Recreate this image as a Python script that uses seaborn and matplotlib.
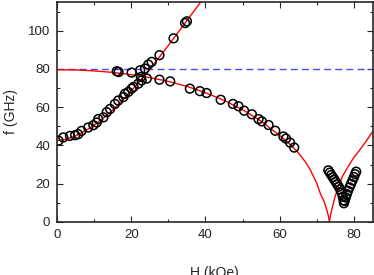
import numpy as np
import pandas as pd
import matplotlib
matplotlib.use("Agg")
import matplotlib.pyplot as plt
import seaborn as sns
from matplotlib.ticker import MultipleLocator

# ---- data ----
# measured points: upper branch (rising)
up_H = [0.4, 1.7, 3.5, 4.9, 5.7, 6.6, 8.4, 9.8, 10.7, 11.1, 12.5, 13.4, 14.3, 15.6,
        16.5, 17.9, 18.3, 19.2, 20.1, 20.6, 21.9, 22.4, 22.8, 23.7, 24.6, 25.5,
        27.6, 31.4, 34.5, 35.0]
up_f = [42.5, 44.2, 45.0, 45.4, 45.9, 47.6, 49.4, 50.6, 52.0, 53.8, 54.7, 57.4, 59.1, 61.7,
        63.5, 65.3, 67.0, 68.0, 69.7, 70.6, 72.3, 79.3, 74.0, 80.2, 82.3, 83.7,
        87.2, 96.0, 104.0, 104.9]
# measured points: lower branch (falling)
lo_H = [16.1, 16.6, 20.1, 22.6, 24.2, 27.6, 30.5, 35.8, 38.5, 40.3, 44.1, 47.4, 48.9,
        50.4, 52.5, 54.3, 55.2, 57.0, 58.8, 61.0, 61.7, 62.8, 63.9]
lo_f = [78.8, 78.4, 78.1, 75.8, 75.0, 74.4, 73.5, 69.7, 68.4, 67.4, 63.9, 61.7, 60.5,
        58.2, 56.3, 53.8, 52.6, 50.7, 47.7, 44.7, 43.6, 41.5, 38.9]
# measured points: V near the spin-flop field
v_H = [73.1, 73.5, 73.9, 74.3, 74.7, 75.1, 75.5, 75.9, 76.3, 76.7, 77.0, 77.2, 77.3,
       77.5, 77.8, 78.1, 78.4, 78.8, 79.2, 79.6, 80.0, 80.3, 80.6]
v_f = [27.0, 25.8, 24.6, 23.4, 22.2, 21.0, 19.7, 18.4, 17.0, 15.3, 13.2, 11.3, 9.8,
       11.0, 12.8, 14.6, 16.3, 18.1, 19.9, 21.7, 23.5, 25.0, 26.3]

# theory curves (red)
th1_H = [0, 2.5, 5, 7.5, 10, 12.5, 15, 17.5, 20, 22.5, 25, 27.5, 30, 32.5, 35, 37.5, 40, 41]
th1_f = [42.5, 43.3, 45.0, 47.5, 50.6, 54.3, 58.5, 63.3, 68.5, 74.0, 80.0, 86.0, 92.3,
         98.8, 105.3, 111.8, 118.3, 121.0]
th2_H = [0, 5, 10, 15, 20, 25, 30, 35, 40, 45, 50, 55, 60, 62.8, 65, 67, 68.2, 70,
         70.9, 72, 72.7, 73.1, 73.4]
th2_f = [79.6, 79.5, 79.0, 78.2, 77.0, 75.5, 73.5, 70.9, 67.6, 63.6, 58.7, 52.7, 45.2,
         40.6, 36.2, 31.2, 27.4, 20.2, 15.1, 10.5, 6.3, 3.2, 0.0]
th3_H = [73.4, 73.6, 74.0, 74.8, 75.8, 77.0, 78.5, 80.0, 81.7, 83.3, 85.0]
th3_f = [0.0, 2.8, 6.3, 12.5, 18.6, 24.2, 29.2, 33.8, 38.0, 42.3, 47.2]

hline_f = 80.0

# ---- plot ----
sns.set_style("ticks")
plt.rcParams['font.family'] = ['Liberation Sans', 'DejaVu Sans']

fig = plt.figure(figsize=(3.74, 2.75), dpi=100)
ax = fig.add_axes([57/374, 1-222/275, 315.5/374, 220/275])

ax.axhline(hline_f, color='#4a4ae6', lw=1.0, ls=(0, (5, 3)), zorder=1)

for H, f in [(th1_H, th1_f), (th2_H, th2_f), (th3_H, th3_f)]:
    sns.lineplot(x=H, y=f, ax=ax, color='red', lw=1.0, sort=False,
                 estimator=None, zorder=2)

pts = pd.DataFrame({'H': up_H + lo_H + v_H, 'f': up_f + lo_f + v_f})
sns.scatterplot(data=pts, x='H', y='f', ax=ax, marker='o', s=40,
                facecolor='none', edgecolor='black', linewidth=1.1, zorder=3)

ax.set_xlim(0, 85)
ax.set_ylim(0, 115)
ax.xaxis.set_major_locator(MultipleLocator(20))
ax.xaxis.set_minor_locator(MultipleLocator(10))
ax.yaxis.set_major_locator(MultipleLocator(20))
ax.yaxis.set_minor_locator(MultipleLocator(10))
ax.tick_params(which='both', direction='in', top=True, right=True, width=0.8,
               labelsize=9.5, pad=5)
ax.tick_params(which='major', length=4)
ax.tick_params(which='minor', length=2)
for s in ax.spines.values():
    s.set_linewidth(1.2)

ax.set_xlabel('H (kOe)', fontsize=10)
ax.set_ylabel('f (GHz)', fontsize=10)
ax.xaxis.set_label_coords(0.5, -0.2)
ax.yaxis.set_label_coords(-0.125, 0.5)

fig.savefig('out.png', dpi=100)
